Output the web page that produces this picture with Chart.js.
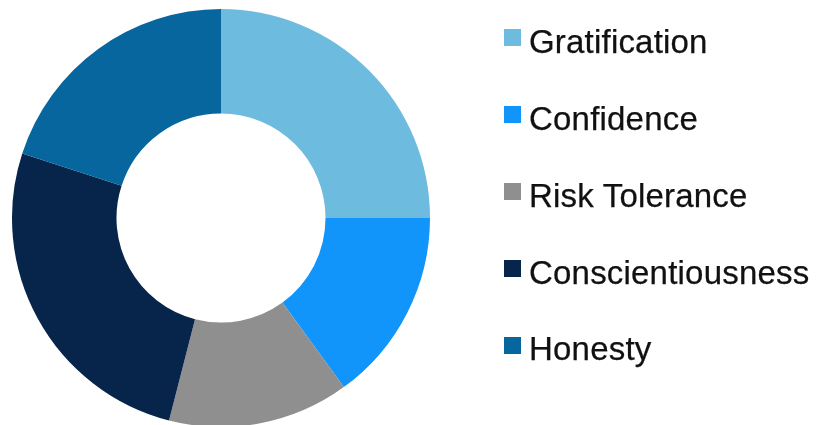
<!DOCTYPE html>
<html>
<head>
<meta charset="utf-8">
<script src="https://cdn.jsdelivr.net/npm/chart.js@4/dist/chart.umd.min.js"></script>
<style>
  html, body { margin: 0; padding: 0; background: #fff; overflow: hidden; }
  #wrap { position: relative; width: 818px; height: 425px; }
  #chart { position: absolute; left: 0; top: 0; }
  #legend { position: absolute; left: 0; top: 0; width: 818px; height: 425px; pointer-events: none; }
  .item { position: absolute; left: 504px; height: 33px; }
  .swatch { position: absolute; left: 0; width: 17px; height: 17px; }
  .label { position: absolute; left: 25px; top: 0; white-space: nowrap;
           font-family: "Liberation Sans", Arial, sans-serif; font-size: 33px; line-height: 33px;
           letter-spacing: 0.2px; color: #111; -webkit-text-stroke: 0.25px #111; }
</style>
</head>
<body>
<div id="wrap">
  <canvas id="chart" width="818" height="425"></canvas>
  <div id="legend"></div>
</div>
<script>
// Trait shares (percent of total)
const categories = ["Gratification", "Confidence", "Risk Tolerance", "Conscientiousness", "Honesty"];
const shares = [25, 15, 14, 26, 20];
const sliceColors = ["#6dbbdf", "#1195fb", "#8f8f8f", "#07244a", "#08669f"];

const chart = new Chart(document.getElementById("chart"), {
  type: "doughnut",
  data: {
    labels: categories,
    datasets: [{
      data: shares,
      backgroundColor: sliceColors,
      borderWidth: 0,
      hoverOffset: 0,
      clip: false
    }]
  },
  options: {
    responsive: false,
    animation: false,
    radius: 209,
    cutout: "50%",
    layout: { padding: { left: 12, right: 388, top: 11, bottom: 0 } },
    plugins: {
      legend: { display: false },
      tooltip: { enabled: false }
    }
  }
});

// Legend rows: one swatch and label per slice, taken from the chart data
const legendEl = document.getElementById("legend");
chart.data.labels.forEach((text, i) => {
  const row = document.createElement("div");
  row.className = "item";
  row.style.top = (24.8 + i * 76.9) + "px";
  const sw = document.createElement("div");
  sw.className = "swatch";
  sw.style.top = "4.7px";
  sw.style.background = chart.data.datasets[0].backgroundColor[i];
  const tx = document.createElement("div");
  tx.className = "label";
  tx.textContent = text;
  row.appendChild(sw);
  row.appendChild(tx);
  legendEl.appendChild(row);
});
</script>
</body>
</html>
